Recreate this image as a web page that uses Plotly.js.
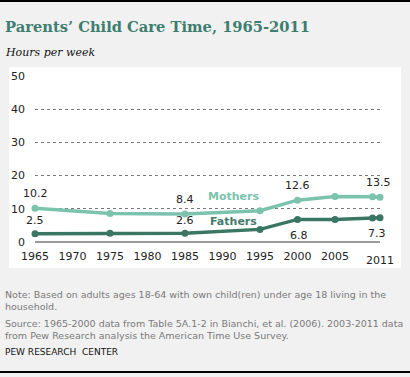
<!DOCTYPE html>
<html>
<head>
<meta charset="utf-8">
<script src="https://cdn.plot.ly/plotly-3.0.1.min.js"></script>
<style>html,body{margin:0;padding:0;background:#f1f1f1;}#chart{width:410px;height:377px;}</style>
</head>
<body>
<div id="chart"></div>
<script>
// ---- data ----
const years = [1965, 1975, 1985, 1995, 2000, 2005, 2010, 2011];
const mothers = [10.2, 8.6, 8.4, 9.4, 12.6, 13.7, 13.6, 13.5];
const fathers = [2.5, 2.6, 2.6, 3.8, 6.8, 6.8, 7.2, 7.3];
const xTickVals = [1965, 1970, 1975, 1980, 1985, 1990, 1995, 2000, 2005];
const xTickText = ['1965', '1970', '1975', '1980', '1985', '1990', '1995', '2000', '2005'];
const lastTick = '2011';
const yTickVals = [0, 10, 20, 30, 40, 50];
const mothersLabelIdx = [0, 2, 4, 7];
const fathersLabelIdx = [0, 2];
const fathersLabelBelowIdx = [4, 7];

const cMom = '#7cc3ae', cDad = '#3a7663', cTitle = '#3e7d70';
const F = 'DejaVu Sans, Verdana, sans-serif';

// plot geometry helpers (paper coords)
const L = 35, W = 345, T = 76, H = 166, B0 = T + H;
const px = v => (v - L) / W;
const py = v => (B0 - v) / H;

const traces = [
  {x: years, y: mothers, type: 'scatter', mode: 'lines+markers', cliponaxis: false,
   line: {color: cMom, width: 3.5}, marker: {color: cMom, size: 7}, hoverinfo: 'skip'},
  {x: years, y: fathers, type: 'scatter', mode: 'lines+markers', cliponaxis: false,
   line: {color: cDad, width: 3.5}, marker: {color: cDad, size: 7}, hoverinfo: 'skip'}
];

const ann = [];
mothersLabelIdx.forEach(i => ann.push({x: years[i], y: mothers[i], xref: 'x', yref: 'y', text: mothers[i].toFixed(1),
  showarrow: false, yshift: 15, xshift: i === years.length - 1 ? -2 : 0, font: {family: F, size: 11, color: '#222'}}));
fathersLabelIdx.forEach(i => ann.push({x: years[i], y: fathers[i], xref: 'x', yref: 'y', text: fathers[i].toFixed(1),
  showarrow: false, yshift: 13, font: {family: F, size: 11, color: '#222'}}));
fathersLabelBelowIdx.forEach(i => ann.push({x: years[i], y: fathers[i], xref: 'x', yref: 'y', text: fathers[i].toFixed(1),
  showarrow: false, yshift: -16, xshift: i === years.length - 1 ? -3 : 1, font: {family: F, size: 11, color: '#222'}}));
ann.push({x: 1991.4, y: 13.7, xref: 'x', yref: 'y', text: '<b>Mothers</b>', showarrow: false, font: {family: F, size: 11, color: cMom}});
ann.push({x: 1991.4, y: 6.2, xref: 'x', yref: 'y', text: '<b>Fathers</b>', showarrow: false, font: {family: F, size: 11, color: '#437b6c'}});
ann.push({x: 2011, y: 0, xref: 'x', yref: 'y', text: lastTick, showarrow: false, yshift: -18, font: {family: F, size: 11, color: '#222'}});
// titles & notes
ann.push({x: px(3), y: py(26), xref: 'paper', yref: 'paper', xanchor: 'left', yanchor: 'middle', showarrow: false,
  text: '<b>Parents\u2019 Child Care Time, 1965-2011</b>', font: {family: 'DejaVu Serif, Georgia, serif', size: 14.7, color: cTitle}});
ann.push({x: px(3), y: py(52), xref: 'paper', yref: 'paper', xanchor: 'left', yanchor: 'middle', showarrow: false,
  text: '<i>Hours per week</i>', font: {family: 'DejaVu Serif, Georgia, serif', size: 11, color: '#111'}});
ann.push({x: px(3), y: py(300), xref: 'paper', yref: 'paper', xanchor: 'left', yanchor: 'middle', showarrow: false, align: 'left',
  text: 'Note: Based on adults ages 18-64 with own child(ren) under age 18 living in the<br>household.',
  font: {family: F, size: 9.5, color: '#7a7a7a'}});
ann.push({x: px(3), y: py(329), xref: 'paper', yref: 'paper', xanchor: 'left', yanchor: 'middle', showarrow: false, align: 'left',
  text: 'Source: 1965-2000 data from Table 5A.1-2 in Bianchi, et al. (2006). 2003-2011 data<br>from Pew Research analysis the American Time Use Survey.',
  font: {family: F, size: 9.5, color: '#7a7a7a'}});
ann.push({x: px(3), y: py(352), xref: 'paper', yref: 'paper', xanchor: 'left', yanchor: 'middle', showarrow: false,
  text: 'PEW RESEARCH  CENTER', font: {family: F, size: 9, color: '#111'}});

const shapes = [
  {type: 'rect', xref: 'paper', yref: 'paper', x0: px(9), x1: px(401), y0: py(268), y1: py(67), fillcolor: '#ffffff', line: {width: 0}, layer: 'below'},
  {type: 'line', xref: 'paper', yref: 'paper', x0: px(-5), x1: px(415), y0: py(1), y1: py(1), line: {color: '#000', width: 2}},
  {type: 'line', xref: 'paper', yref: 'paper', x0: px(-5), x1: px(415), y0: py(372), y1: py(372), line: {color: '#000', width: 2}}
];

const layout = {
  width: 410, height: 377,
  margin: {l: L, r: 410 - L - W, t: T, b: 377 - B0, pad: 0},
  paper_bgcolor: '#f1f1f1', plot_bgcolor: 'rgba(0,0,0,0)',
  showlegend: false,
  xaxis: {range: [1965, 2011], tickvals: xTickVals, ticktext: xTickText, showgrid: false, zeroline: false, showline: false,
    ticks: '', tickfont: {family: F, size: 11, color: '#222'}, ticklabelstandoff: 6, fixedrange: true},
  yaxis: {range: [0, 50], tickvals: yTickVals, showgrid: true, gridcolor: '#777', griddash: 'dot', gridwidth: 1,
    zeroline: true, zerolinecolor: '#999', zerolinewidth: 1.5, showline: false, ticks: '',
    tickfont: {family: F, size: 11, color: '#222'}, ticklabelstandoff: 9, fixedrange: true},
  annotations: ann, shapes: shapes
};

Plotly.newPlot('chart', traces, layout, {staticPlot: true, displayModeBar: false});
</script>
</body>
</html>
